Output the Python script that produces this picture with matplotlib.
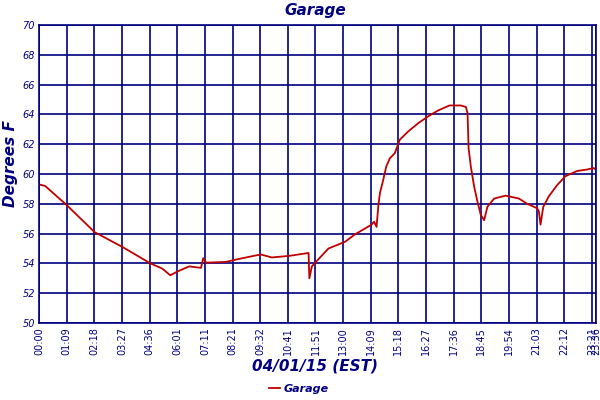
import matplotlib
matplotlib.use("Agg")
import matplotlib.pyplot as plt

# Sample position along the (index-based) time axis, 10 samples per labelled interval
sample = [0, 2.2, 10.1, 20.1, 30.2, 40.3, 44.6, 47.5, 50, 54.3, 58.6, 59.4, 60.4,
          67.6, 72.3, 80.2, 84.2, 90.3, 97.5, 97.8, 98.7, 99.9, 104.7, 110.7,
          114.3, 120.3, 121.2, 122.1, 122.7, 123.3, 124.5, 125.6, 126.9, 128.7,
          130.5, 133.5, 137.1, 140.6, 144.2, 148.5, 152.6, 154.4, 155.0, 155.4,
          156.2, 157.4, 158.6, 159.8, 161.0, 162.2, 164.6, 168.8, 173.6, 176.6,
          180.2, 180.8, 181.4, 182.4, 184.4, 187.4, 190.4, 194.6, 198.2, 200.6,
          201.4]
garage = [59.3, 59.2, 57.9, 56.1, 55.1, 54.0, 53.65, 53.2, 53.45, 53.8, 53.7,
          54.35, 54.05, 54.1, 54.3, 54.6, 54.4, 54.5, 54.7, 53.0, 53.8, 54.05,
          55.0, 55.45, 55.95, 56.6, 56.8, 56.45, 57.8, 58.7, 59.6, 60.5, 61.05,
          61.4, 62.3, 62.85, 63.4, 63.85, 64.25, 64.6, 64.6, 64.5, 64.1, 61.7,
          60.5, 59.15, 58.15, 57.25, 56.9, 57.8, 58.35, 58.55, 58.35, 58.0,
          57.7, 57.5, 56.6, 57.8, 58.5, 59.25, 59.85, 60.2, 60.3, 60.4, 60.3]

tick_pos = [0, 10, 20, 30, 40, 50, 60, 70, 80, 90, 100, 110, 120, 130, 140,
            150, 160, 170, 180, 190, 200, 201.4]
tick_labels = ["00:00", "01:09", "02:18", "03:27", "04:36", "06:01", "07:11",
               "08:21", "09:32", "10:41", "11:51", "13:00", "14:09", "15:18",
               "16:27", "17:36", "18:45", "19:54", "21:03", "22:12", "23:21",
               "23:36"]
y_ticks = [50, 52, 54, 56, 58, 60, 62, 64, 66, 68, 70]

navy = "#000080"
red = "#C00000"

fig = plt.figure(figsize=(6, 4), dpi=100)
ax = fig.add_axes([0.065, 0.1925, 0.928, 0.745])
ax.plot(sample, garage, color=red, lw=1.3, label="Garage")
ax.set_xlim(0, 201.4)
ax.set_ylim(50, 70)
ax.set_xticks(tick_pos)
ax.set_xticklabels(tick_labels, rotation=90, fontsize=7, color=navy)
ax.set_yticks(y_ticks)
ax.set_yticklabels([str(v) for v in y_ticks], fontsize=7, color=navy,
                   style="italic")
ax.tick_params(length=0, pad=3)
ax.grid(True, color=navy, lw=1.2)
ax.set_axisbelow(True)
for s in ax.spines.values():
    s.set_color(navy)
    s.set_linewidth(1.2)

fig.text(0.525, 0.975, "Garage", ha="center", va="center", fontsize=11,
         fontweight="bold", style="italic", color=navy)
fig.text(0.018, 0.59, "Degrees F", ha="center", va="center", rotation=90,
         fontsize=11, fontweight="bold", style="italic", color=navy)
fig.text(0.525, 0.085, "04/01/15 (EST)", ha="center", va="center",
         fontsize=11, fontweight="bold", style="italic", color=navy)
fig.legend(loc="center", bbox_to_anchor=(0.498, 0.027), frameon=False,
           handlelength=1.0, handletextpad=0.3,
           prop={"weight": "bold", "style": "italic", "size": 8},
           labelcolor=navy)

fig.savefig("out.png", dpi=100)
